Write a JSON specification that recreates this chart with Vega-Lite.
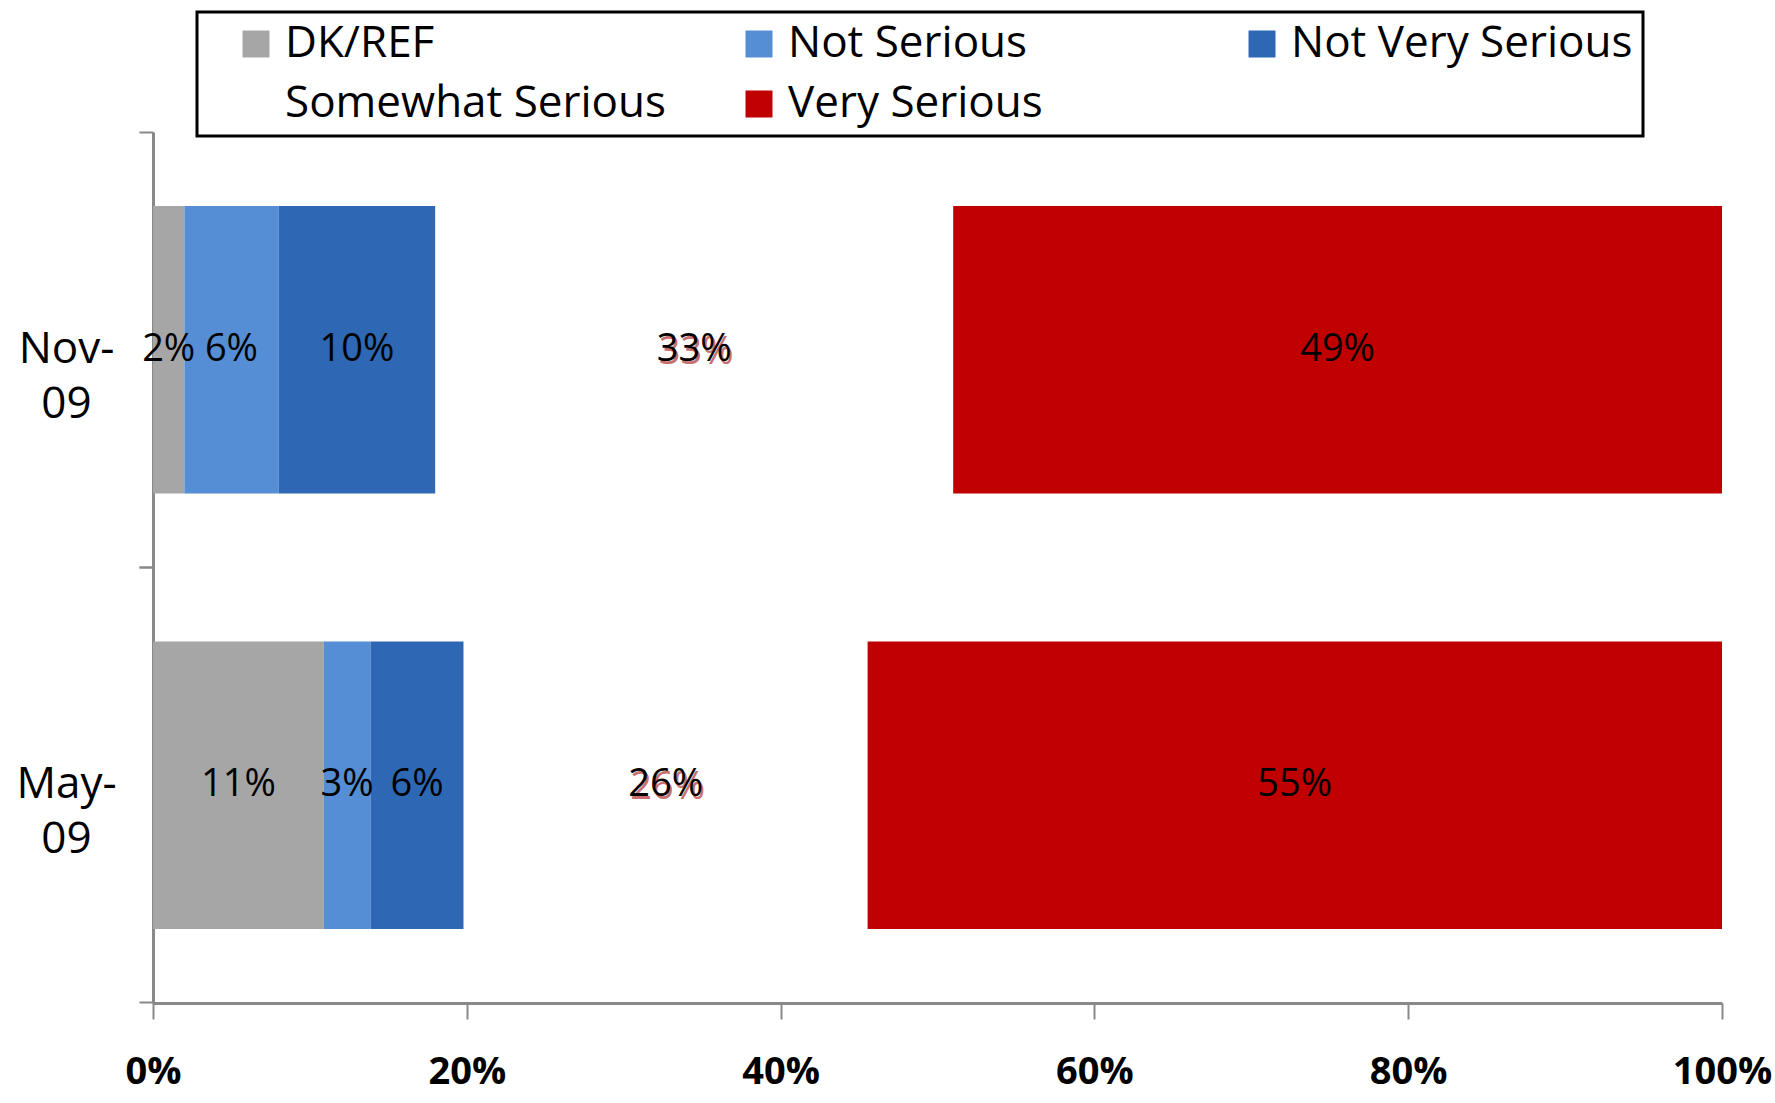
{
  "$schema": "https://vega.github.io/schema/vega-lite/v6.json",
  "width": 1569,
  "height": 871,
  "autosize": {"type": "none"},
  "padding": {"left": 153, "top": 132, "right": 53, "bottom": 100},
  "background": "white",
  "config": {"view": {"stroke": null}, "font": "Open Sans", "legend": {"strokeWidth": 3}},
  "data": {
    "values": [
      {"period": "Nov-09", "response": "DK/REF", "value": 2, "label": "2%"},
      {"period": "Nov-09", "response": "Not Serious", "value": 6, "label": "6%"},
      {"period": "Nov-09", "response": "Not Very Serious", "value": 10, "label": "10%"},
      {"period": "Nov-09", "response": "Somewhat Serious", "value": 33, "label": "33%"},
      {"period": "Nov-09", "response": "Very Serious", "value": 49, "label": "49%"},
      {"period": "May-09", "response": "DK/REF", "value": 11, "label": "11%"},
      {"period": "May-09", "response": "Not Serious", "value": 3, "label": "3%"},
      {"period": "May-09", "response": "Not Very Serious", "value": 6, "label": "6%"},
      {"period": "May-09", "response": "Somewhat Serious", "value": 26, "label": "26%"},
      {"period": "May-09", "response": "Very Serious", "value": 55, "label": "55%"}
    ]
  },
  "layer": [
    {
      "mark": {"type": "bar"},
      "encoding": {
        "y": {
          "field": "period", "type": "nominal", "sort": ["Nov-09", "May-09"],
          "scale": {"paddingInner": 0.34, "paddingOuter": 0.17},
          "axis": {
            "title": null, "orient": "left", "ticks": false, "domain": true,
            "domainColor": "#898989", "domainWidth": 3,
            "labelExpr": "[slice(datum.label,0,4), slice(datum.label,4)]",
            "labelAlign": "center", "labelBaseline": "middle", "labelPadding": 87,
            "labelFontSize": 44, "labelLineHeight": 55, "labelColor": "black", "labelFont": "Open Sans"
          }
        },
        "x": {
          "field": "value", "type": "quantitative", "stack": "normalize",
          "scale": {"domain": [0, 1]},
          "axis": {
            "values": [0, 0.2, 0.4, 0.6, 0.8, 1], "format": ".0%", "grid": false, "title": null,
            "domainColor": "#898989", "domainWidth": 3, "tickColor": "#898989", "tickWidth": 2,
            "tickSize": 16, "labelFont": "Open Sans", "labelFontWeight": "bold", "labelFontSize": 38,
            "labelColor": "black", "labelPadding": 34, "labelFlush": false
          }
        },
        "order": {"field": "response", "sort": "ascending"},
        "color": {
          "field": "response", "type": "nominal",
          "scale": {
            "domain": ["DK/REF", "Not Serious", "Not Very Serious", "Somewhat Serious", "Very Serious"],
            "range": ["#A6A6A6", "#558ED5", "#2E68B4", "#FFFFFF", "#C00000"]
          },
          "legend": {
            "orient": "none", "legendX": 44, "legendY": -120, "direction": "horizontal",
            "columns": 3, "gridAlign": "all", "columnPadding": 70, "rowPadding": 16,
            "symbolType": "square", "symbolSize": 729, "symbolStrokeWidth": 0,
            "labelFont": "Open Sans", "labelFontSize": 44, "labelColor": "black", "labelOffset": 7,
            "labelLimit": 0, "padding": 10, "strokeColor": "black", "fillColor": "white",
            "title": " ", "titleOrient": "left", "titlePadding": 27, "titleFontSize": 2
          }
        }
      }
    },
    {
      "mark": {"type": "text", "fontSize": 38, "font": "Open Sans", "color": "#C87070", "dx": 2, "dy": 3, "baseline": "middle"},
      "encoding": {
        "y": {
          "field": "period", "type": "nominal", "sort": ["Nov-09", "May-09"],
          "axis": {
            "title": null, "orient": "left", "labels": false, "domain": false, "ticks": true,
            "tickColor": "#898989", "tickWidth": 2, "tickSize": 14, "bandPosition": -0.256
          }
        },
        "x": {"field": "value", "type": "quantitative", "stack": "normalize", "bandPosition": 0.5},
        "order": {"field": "response", "sort": "ascending"},
        "detail": {"field": "response"},
        "opacity": {"condition": {"test": "datum.response == 'Somewhat Serious'", "value": 1}, "value": 0},
        "text": {"field": "label"}
      }
    },
    {
      "mark": {"type": "text", "fontSize": 38, "font": "Open Sans", "color": "black", "baseline": "middle"},
      "encoding": {
        "y": {
          "field": "period", "type": "nominal", "sort": ["Nov-09", "May-09"],
          "axis": {
            "title": null, "orient": "left", "labels": false, "domain": false, "ticks": true,
            "tickColor": "#898989", "tickWidth": 2, "tickSize": 14, "bandPosition": 1.256
          }
        },
        "x": {"field": "value", "type": "quantitative", "stack": "normalize", "bandPosition": 0.5},
        "order": {"field": "response", "sort": "ascending"},
        "detail": {"field": "response"},
        "text": {"field": "label"}
      }
    }
  ],
  "resolve": {"axis": {"y": "independent"}}
}
